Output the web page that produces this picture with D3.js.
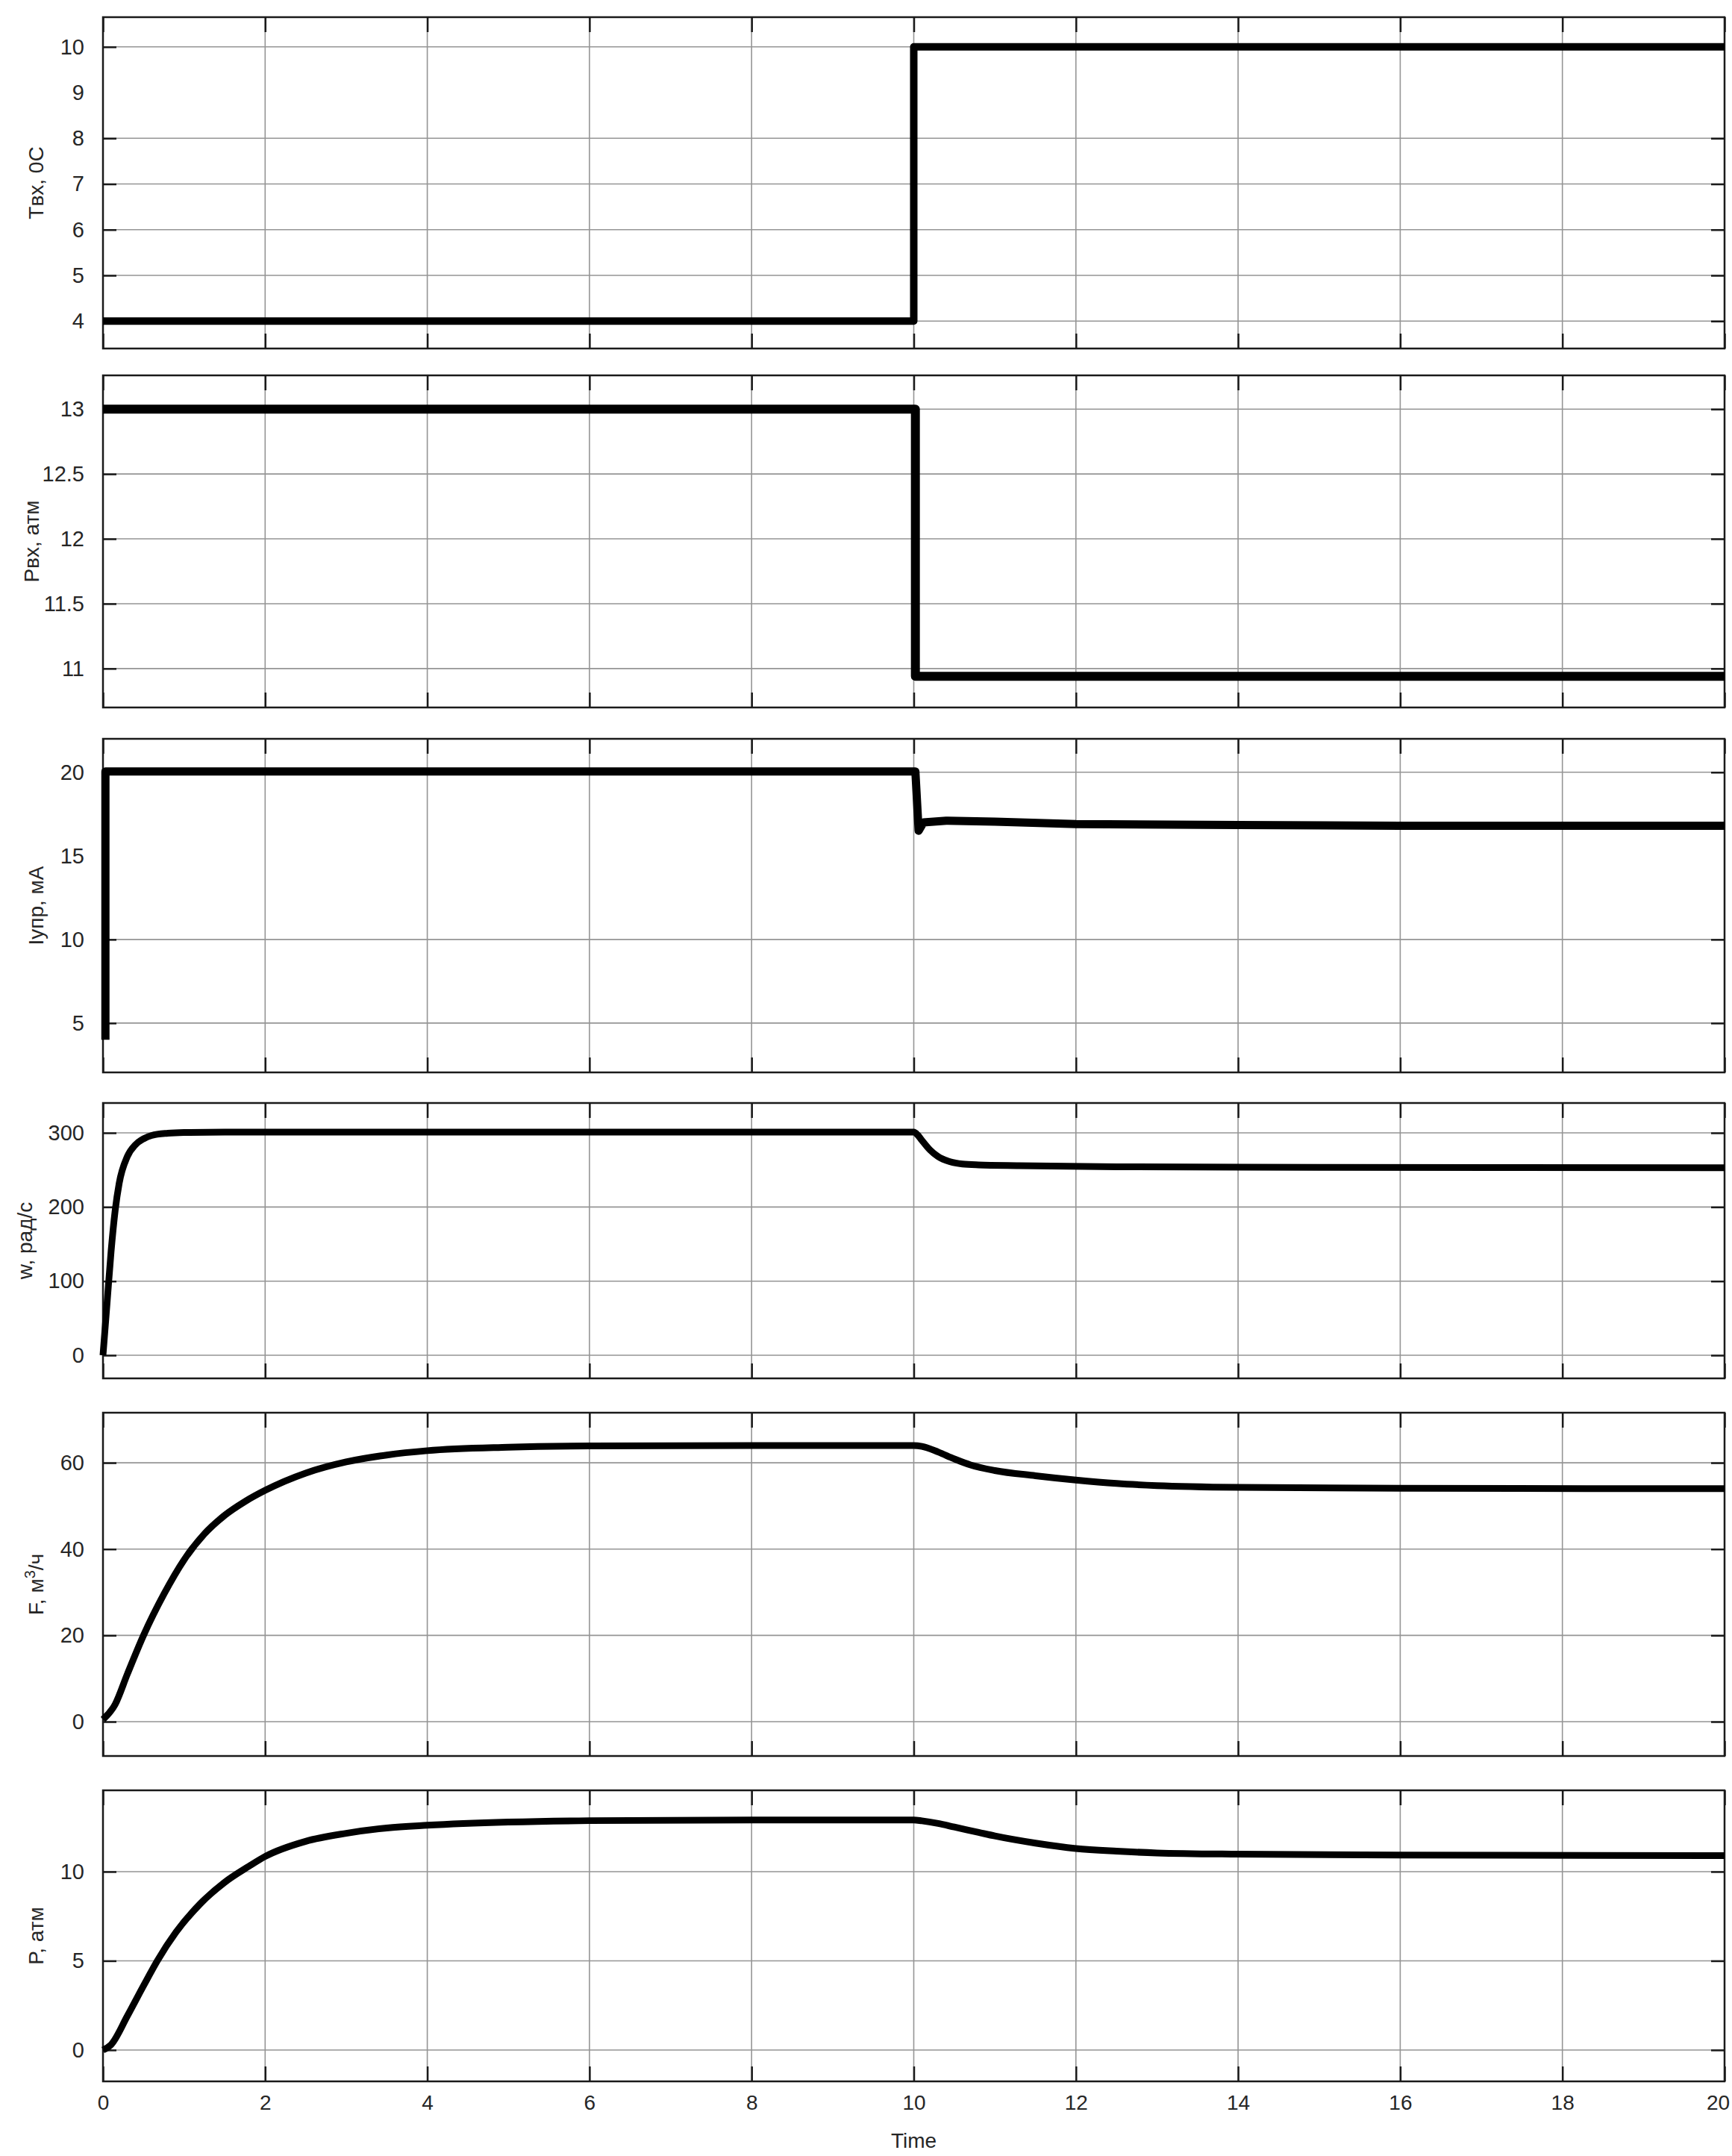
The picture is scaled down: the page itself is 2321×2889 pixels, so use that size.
<html>
<head>
<meta charset="utf-8">
<script src="https://d3js.org/d3.v7.min.js"></script>
<style>
 body {margin:0; background:#fff;}
 svg text {font-family: "Liberation Sans", Arial, sans-serif; fill:#262626;}
 .grid line {stroke:#959595; stroke-width:1.6;}
 .ax path {display:none;}
 .ax line {stroke:#1a1a1a; stroke-width:2.5;}
 .ax text {font-size:29px;}
 .frame {fill:none; stroke:#1a1a1a; stroke-width:2.5;}
 .curve {fill:none; stroke:#000; stroke-linejoin:round;}
 .ylab {font-size:28px;}
</style>
</head>
<body>
<svg id="chart" width=2321 height=2889></svg>
<script>
var timeTicks = [0, 2, 4, 6, 8, 10, 12, 14, 16, 18, 20];

// Tвх, 0C
var tinT = [0, 10, 10, 20];
var tinV = [4, 4, 10, 10];

// Pвх, атм
var pinT = [0, 10.02, 10.02, 20];
var pinV = [13, 13, 10.94, 10.94];

// Iупр, мА
var iT = [0.03, 0.03, 10.02, 10.06, 10.12, 10.4, 11, 12, 14, 16, 20];
var iV = [4, 20.05, 20.05, 16.5, 17.0, 17.1, 17.05, 16.9, 16.85, 16.8, 16.8];

// w, рад/с
var wT = [0, 0.05, 0.1, 0.15, 0.2, 0.3, 0.4, 0.5, 0.6, 0.8, 1, 1.5, 10, 10.05, 10.1, 10.2, 10.3, 10.45, 10.6, 10.8, 11.3, 12.5, 15, 20];
var wV = [0, 70, 140, 195, 232, 268, 284, 292, 296.5, 299.5, 300.5, 301, 301, 297, 290, 277, 268, 261, 258, 256.8, 255.8, 254.3, 253.5, 253];

// F, м3/ч
var fT = [0, 0.15, 0.3, 0.5, 0.75, 1, 1.25, 1.5, 1.75, 2, 2.5, 3, 3.5, 4, 5, 6, 8, 10, 10.1, 10.3, 10.5, 10.7, 11, 11.5, 12, 12.5, 13, 14, 16, 20];
var fV = [0.5, 4, 11, 20, 29.5, 37.5, 43.5, 47.8, 51, 53.6, 57.6, 60.2, 61.8, 62.8, 63.6, 63.9, 64, 64, 63.8, 62.5, 60.9, 59.5, 58.2, 57, 56, 55.2, 54.7, 54.3, 54.1, 54];

// P, атм
var pT = [0, 0.1, 0.3, 0.5, 0.67, 0.9, 1.2, 1.5, 1.8, 2, 2.5, 3, 3.5, 4, 5, 6, 8, 10, 10.1, 10.3, 10.5, 10.8, 11, 11.5, 12, 12.5, 13, 14, 16, 20];
var pV = [0, 0.3, 1.9, 3.6, 5, 6.6, 8.2, 9.4, 10.3, 10.85, 11.7, 12.15, 12.45, 12.6, 12.78, 12.86, 12.9, 12.9, 12.85, 12.7, 12.5, 12.2, 12.0, 11.6, 11.3, 11.15, 11.05, 10.98, 10.93, 10.9];

var tickT = [4, 5, 6, 7, 8, 9, 10];
var tickPin = [11, 11.5, 12, 12.5, 13];
var tickI = [5, 10, 15, 20];
var tickW = [0, 100, 200, 300];
var tickF = [0, 20, 40, 60];
var tickP = [0, 5, 10];

var left = 138, right = 2311;
var svg = d3.select("#chart");
var x = d3.scaleLinear().domain([0, 20]).range([left, right]);

var panels = [
 {t: tinT, v: tinV, top: 23, bottom: 467, dom: [3.40, 10.65], ticks: tickT, grid: [4, 5, 6, 7, 8, 10], sw: 10, lx: 48, label: ["Tвх, 0C"], smooth: false},
 {t: pinT, v: pinV, top: 503, bottom: 948, dom: [10.70, 13.26], ticks: tickPin, grid: tickPin, sw: 12, lx: 42, label: ["Pвх, атм"], smooth: false},
 {t: iT, v: iV, top: 990, bottom: 1437, dom: [2.05, 22.0], ticks: tickI, grid: [5, 10, 20], sw: 11, lx: 48, label: ["Iупр, мА"], smooth: false},
 {t: wT, v: wV, top: 1478, bottom: 1847, dom: [-31.2, 340.3], ticks: tickW, grid: tickW, sw: 9, lx: 33, label: ["w, рад/с"], smooth: true},
 {t: fT, v: fV, top: 1893, bottom: 2353, dom: [-7.95, 71.6], ticks: tickF, grid: tickF, sw: 9, lx: 48, label: ["F, м", "3", "/ч"], smooth: true},
 {t: pT, v: pV, top: 2399, bottom: 2789, dom: [-1.76, 14.56], ticks: tickP, grid: tickP, sw: 9, lx: 48, label: ["P, атм"], smooth: true}
];

panels.forEach(function(p, k) {
  var y = d3.scaleLinear().domain(p.dom).range([p.bottom, p.top]);
  var g = svg.append("g");

  // grid
  var grid = g.append("g").attr("class", "grid");
  grid.selectAll(".gx").data(timeTicks.slice(1, -1)).enter().append("line")
    .attr("x1", d => x(d)).attr("x2", d => x(d))
    .attr("y1", p.top).attr("y2", p.bottom);
  grid.selectAll(".gy").data(p.grid).enter().append("line")
    .attr("x1", left).attr("x2", right)
    .attr("y1", d => y(d)).attr("y2", d => y(d));

  // left axis with labels, inner ticks
  var la = g.append("g").attr("class", "ax")
    .attr("transform", "translate(" + left + ",0)")
    .call(d3.axisLeft(y).tickValues(p.ticks).tickSize(-18).tickPadding(25).tickFormat(d3.format("~g")));
  la.selectAll(".tick").filter(d => p.grid.indexOf(d) < 0).select("line").remove();

  g.append("g").attr("class", "ax")
    .attr("transform", "translate(" + right + ",0)")
    .call(d3.axisRight(y).tickValues(p.grid).tickSize(-18).tickFormat(""));

  g.append("g").attr("class", "ax")
    .attr("transform", "translate(0," + p.top + ")")
    .call(d3.axisTop(x).tickValues(timeTicks).tickSize(-20).tickFormat(""));

  var ba = g.append("g").attr("class", "ax")
    .attr("transform", "translate(0," + p.bottom + ")")
    .call(d3.axisBottom(x).tickValues(timeTicks).tickSize(-20).tickPadding(18));
  if (k < panels.length - 1) ba.selectAll("text").remove();
  else {
    ba.selectAll("text").style("font-size", "28px");
    // last label sits against the page edge
    ba.selectAll(".tick").filter(d => d === 20).select("text").attr("dx", -9);
  }

  g.append("rect").attr("class", "frame")
    .attr("x", left).attr("y", p.top)
    .attr("width", right - left).attr("height", p.bottom - p.top);

  // data line
  var line = d3.line()
    .x(i => x(p.t[i])).y(i => y(p.v[i]))
    .curve(p.smooth ? d3.curveMonotoneX : d3.curveLinear);
  g.append("path").attr("class", "curve")
    .attr("stroke-width", p.sw)
    .attr("d", line(d3.range(p.t.length)));

  // y label
  var cy = (p.top + p.bottom) / 2;
  var lab = g.append("text").attr("class", "ylab")
    .attr("transform", "translate(" + p.lx + "," + cy + ") rotate(-90)")
    .attr("text-anchor", "middle")
    .attr("dy", "0.35em");
  lab.append("tspan").text(p.label[0]);
  if (p.label.length > 1) {
    lab.append("tspan").attr("baseline-shift", "super").style("font-size", "20px").text(p.label[1]);
    lab.append("tspan").text(p.label[2]);
  }
});

svg.append("text")
  .attr("x", (left + right) / 2)
  .attr("y", 2878)
  .attr("text-anchor", "middle")
  .style("font-size", "28px")
  .text("Time");
</script>
</body>
</html>
